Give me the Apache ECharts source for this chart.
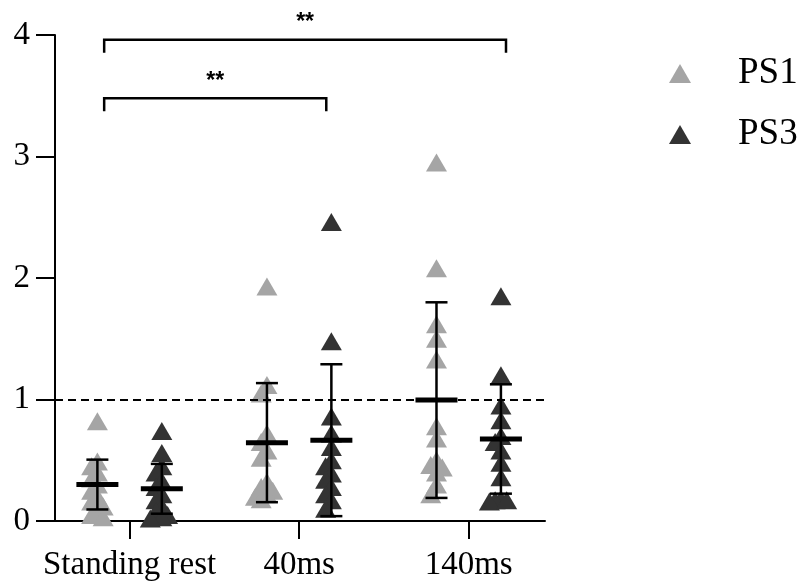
<!DOCTYPE html>
<html>
<head>
<meta charset="utf-8">
<script src="https://cdn.jsdelivr.net/npm/echarts@6/dist/echarts.min.js"></script>
<style>
  html, body { margin: 0; padding: 0; background: #fff; }
  #chart { width: 803px; height: 588px; }
</style>
</head>
<body>
<div id="chart"></div>
<script>
// Conditions on the x axis
const categories = ['Standing rest', '40ms', '140ms'];

// Individual ratios per condition
const ps1Values = [
  [0.82, 0.49, 0.45, 0.40, 0.35, 0.30, 0.25, 0.20, 0.16, 0.12, 0.08, 0.05, 0.03],
  [1.93, 1.12, 1.05, 0.72, 0.65, 0.58, 0.52, 0.32, 0.28, 0.25, 0.22, 0.20, 0.18],
  [2.95, 2.08, 1.62, 1.50, 1.33, 0.78, 0.68, 0.50, 0.46, 0.44, 0.40, 0.30, 0.22]
];
const ps3Values = [
  [0.74, 0.56, 0.45, 0.40, 0.33, 0.28, 0.22, 0.17, 0.12, 0.08, 0.05, 0.03, 0.02],
  [2.46, 1.48, 0.86, 0.72, 0.61, 0.50, 0.45, 0.39, 0.34, 0.28, 0.22, 0.17, 0.10],
  [1.85, 1.20, 0.95, 0.83, 0.70, 0.65, 0.58, 0.48, 0.36, 0.18, 0.17, 0.16, 0.17]
];

// Mean and standard deviation per condition
const ps1Mean = [0.30, 0.645, 0.995];
const ps1Sd   = [0.205, 0.49, 0.805];
const ps3Mean = [0.265, 0.665, 0.675];
const ps3Sd   = [0.205, 0.625, 0.45];

// Reference level
const refLevel = 1;

// Significance brackets: start / end position on the x scale, height, label
const bracketStart = [-0.15, -0.15];
const bracketEnd   = [1.16, 2.22];
const bracketLevel = [3.48, 3.96];
const bracketLabel = ['**', '**'];

const yTicks = [0, 1, 2, 3, 4];

const SERIF = "'Liberation Serif', 'Times New Roman', serif";
const GROUP_SHIFT = 0.19;
const PS1_COLOR = '#a5a5a5';
const PS3_COLOR = '#333333';

// Simple beeswarm: spread points that sit close in value sideways
function swarm(values, step, minDy) {
  const order = values.map((v, i) => i).sort((a, b) => values[b] - values[a]);
  const placed = [];
  const off = new Array(values.length).fill(0);
  order.forEach(i => {
    for (let k = 0; k < 20; k++) {
      const c = k === 0 ? 0 : (k % 2 ? -Math.ceil(k / 2) : Math.ceil(k / 2));
      const clash = placed.some(p => p.o === c && Math.abs(p.v - values[i]) < minDy);
      if (!clash) { off[i] = c * step; placed.push({ o: c, v: values[i] }); break; }
    }
  });
  return off;
}

function pointsFor(groups, shift) {
  const out = [];
  groups.forEach((vals, gi) => {
    const off = swarm(vals, 0.034, 0.085);
    vals.forEach((v, j) => out.push([gi + shift + off[j], v]));
  });
  return out;
}

function errorData(means, sds, shift) {
  return means.map((m, i) => [i + shift, m, sds[i]]);
}

function renderError(params, api) {
  const x = api.value(0), m = api.value(1), s = api.value(2);
  const c = api.coord([x, m]);
  const hi = api.coord([x, m + s]);
  const lo = api.coord([x, m - s]);
  const stroke = { stroke: '#000', lineWidth: 2.5 };
  return {
    type: 'group',
    children: [
      { type: 'line', shape: { x1: c[0], y1: hi[1], x2: c[0], y2: lo[1] }, style: stroke },
      { type: 'line', shape: { x1: c[0] - 11, y1: hi[1], x2: c[0] + 11, y2: hi[1] }, style: stroke },
      { type: 'line', shape: { x1: c[0] - 11, y1: lo[1], x2: c[0] + 11, y2: lo[1] }, style: stroke },
      { type: 'rect', shape: { x: c[0] - 21, y: c[1] - 2.5, width: 42, height: 5 }, style: { fill: '#000' } }
    ]
  };
}

const bracketData = bracketStart.map((s, i) => [s, bracketEnd[i], bracketLevel[i], i]);

function renderBracket(params, api) {
  const x1 = api.value(0), x2 = api.value(1), y = api.value(2);
  const label = bracketLabel[api.value(3)];
  const a = api.coord([x1, y]);
  const b = api.coord([x2, y]);
  const drop = 13;
  return {
    type: 'group',
    children: [
      {
        type: 'polyline',
        shape: { points: [[a[0], a[1] + drop], [a[0], a[1]], [b[0], b[1]], [b[0], b[1] + drop]] },
        style: { stroke: '#000', lineWidth: 2.5, fill: null }
      },
      {
        type: 'text',
        style: {
          x: (a[0] + b[0]) / 2, y: a[1] - 17,
          text: label, fill: '#000',
          font: "bold 23px 'Liberation Sans', Arial, sans-serif",
          align: 'center', verticalAlign: 'middle'
        }
      }
    ]
  };
}

const chart = echarts.init(document.getElementById('chart'), null, { renderer: 'canvas' });

chart.setOption({
  animation: false,
  backgroundColor: '#fff',
  grid: { left: 55, right: 258, top: 35, bottom: 67, containLabel: false },
  legend: {
    orient: 'vertical',
    left: 664, top: 50,
    itemWidth: 22, itemHeight: 19,
    itemGap: 24,
    icon: 'triangle',
    data: ['PS1', 'PS3'],
    textStyle: { fontFamily: SERIF, fontSize: 37, color: '#000', padding: [0, 0, 0, 42] }
  },
  xAxis: {
    type: 'value',
    min: -0.44, max: 2.45,
    axisLine: { show: true, onZero: false, lineStyle: { color: '#000', width: 2 } },
    axisTick: { show: true, length: 18, lineStyle: { color: '#000', width: 2 }, customValues: [0, 1, 2] },
    axisLabel: {
      customValues: [0, 1, 2],
      formatter: v => categories[Math.round(v)] || '',
      fontFamily: SERIF, fontSize: 33, color: '#000', margin: 28
    },
    splitLine: { show: false }
  },
  yAxis: {
    type: 'value',
    min: 0, max: 4, interval: 1,
    axisLine: { show: true, onZero: false, lineStyle: { color: '#000', width: 2 } },
    axisTick: { show: true, length: 19, lineStyle: { color: '#000', width: 2 }, customValues: yTicks },
    axisLabel: { customValues: yTicks, fontFamily: SERIF, fontSize: 33, color: '#000', margin: 25 },
    splitLine: { show: false }
  },
  series: [
    {
      name: 'PS1', type: 'scatter',
      symbol: 'triangle', symbolSize: [21, 18],
      itemStyle: { color: PS1_COLOR, opacity: 1 },
      data: pointsFor(ps1Values, -GROUP_SHIFT),
      z: 2,
      markLine: {
        silent: true, symbol: 'none',
        label: { show: false },
        lineStyle: { color: '#000', type: [8, 5], width: 2.2 },
        data: [{ yAxis: refLevel }]
      }
    },
    {
      name: 'PS3', type: 'scatter',
      symbol: 'triangle', symbolSize: [21, 18],
      itemStyle: { color: PS3_COLOR, opacity: 1 },
      data: pointsFor(ps3Values, GROUP_SHIFT),
      z: 2
    },
    {
      type: 'custom', name: 'PS1 mean',
      renderItem: renderError,
      encode: { x: 0, y: 1 },
      data: errorData(ps1Mean, ps1Sd, -GROUP_SHIFT),
      z: 5
    },
    {
      type: 'custom', name: 'PS3 mean',
      renderItem: renderError,
      encode: { x: 0, y: 1 },
      data: errorData(ps3Mean, ps3Sd, GROUP_SHIFT),
      z: 5
    },
    {
      type: 'custom', name: 'brackets',
      renderItem: renderBracket,
      encode: { x: [0, 1], y: 2 },
      clip: false,
      data: bracketData,
      z: 6
    }
  ]
});
</script>
</body>
</html>
